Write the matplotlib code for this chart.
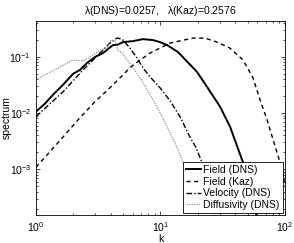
import matplotlib
matplotlib.use('Agg')
import matplotlib.pyplot as plt
import numpy as np

plt.rcParams['font.family'] = ['Liberation Sans', 'DejaVu Sans']
plt.rcParams['mathtext.fontset'] = 'custom'
plt.rcParams['mathtext.rm'] = 'Liberation Sans'
plt.rcParams['mathtext.it'] = 'Liberation Sans'
plt.rcParams['mathtext.default'] = 'regular'

# Spectra (k, spectrum)
k_field = [1.0, 1.181, 1.369, 1.648, 1.983, 2.257, 2.568, 2.978, 3.453, 4.155, 4.474,
           4.998, 6.013, 7.236, 8.706, 9.908, 11.28, 13.82, 19.65, 23.64, 30.06, 36.15,
           46.0, 52.36, 58.51]
s_field = [0.0106, 0.0147, 0.0211, 0.0317, 0.0496, 0.0582, 0.0774, 0.0988, 0.116, 0.161,
           0.161, 0.1815, 0.189, 0.205, 0.197, 0.1815, 0.161, 0.121, 0.0537, 0.0292, 0.0130,
           0.00576, 0.00133, 0.000446, 0.000161]

k_kaz = [1.0, 1.558, 2.257, 2.978, 3.929, 5.903, 8.236, 9.908, 11.92, 18.24, 22.77, 28.43,
         36.15, 46.0, 55.34, 63.0, 71.7, 80.1, 91.2, 101.9]
s_kaz = [0.001089, 0.00326, 0.0083, 0.01589, 0.02806, 0.0686, 0.116, 0.142, 0.1745, 0.214,
         0.214, 0.1815, 0.142, 0.0875, 0.0421, 0.0172, 0.00766, 0.0034, 0.00133, 0.000446]

k_vel = [1.0, 1.648, 2.385, 3.266, 3.929, 4.474, 4.908, 5.689, 6.475, 7.236, 8.236, 9.908,
         11.92, 14.34, 17.26, 19.28, 21.54, 24.53, 27.41]
s_vel = [0.00865, 0.0238, 0.0582, 0.116, 0.1745, 0.214, 0.205, 0.142, 0.0948, 0.0633,
         0.0439, 0.0281, 0.01655, 0.00865, 0.00373, 0.00245, 0.00133, 0.000446, 0.000161]

k_diff = [1.0, 1.558, 1.983, 2.385, 2.715, 3.266, 3.718, 3.929, 4.31, 4.557, 4.908, 5.382,
          6.013, 6.844, 7.508, 8.706, 9.908, 11.92, 13.57, 15.16, 17.26, 19.28]
s_diff = [0.0388, 0.0658, 0.0875, 0.0840, 0.0988, 0.131, 0.142, 0.189, 0.197, 0.131, 0.116,
          0.0875, 0.0633, 0.0421, 0.0304, 0.0172, 0.01016, 0.00451, 0.00245, 0.00133,
          0.000446, 0.000161]

labels = ['Field (DNS)', 'Field (Kaz)', 'Velocity (DNS)', 'Diffusivity (DNS)']
title = r'$\lambda$(DNS)=0.0257,   $\lambda$(Kaz)=0.2576'

fig = plt.figure(figsize=(2.94, 2.43), dpi=100)
ax = fig.add_axes([0.1224, 0.1152, 0.8470, 0.7984])

ax.loglog(k_field, s_field, color='black', lw=1.4, ls='-', label=labels[0])
ax.loglog(k_kaz, s_kaz, color='black', lw=1.0, ls=(0, (3, 2.5)), label=labels[1])
ax.loglog(k_vel, s_vel, color='black', lw=1.0, ls=(0, (4, 1.5, 1, 1.5)), label=labels[2])
ax.loglog(k_diff, s_diff, color='#8c8c8c', lw=0.9, ls=(0, (1, 1)), label=labels[3])

ax.set_xlim(1, 100)
ax.set_ylim(1.55e-4, 0.43)
ax.set_xlabel('k', fontsize=7.5, labelpad=0)
ax.set_ylabel('spectrum', fontsize=7.5)
ax.yaxis.set_label_coords(-0.098, 0.5)
ax.set_title(title, fontsize=7.5, pad=5)

ax.tick_params(which='both', direction='in', top=True, right=True, labelsize=7.5,
               width=0.5)
ax.tick_params(which='major', length=3)
ax.tick_params(which='minor', length=1.5)
for sp in ax.spines.values():
    sp.set_linewidth(0.6)

leg = ax.legend(loc='lower right', fontsize=7.5, frameon=True, fancybox=False,
                edgecolor='black', framealpha=1, handlelength=1.5, handletextpad=0.2,
                borderpad=0.3, labelspacing=0.15, borderaxespad=0.2)
leg.get_frame().set_linewidth(0.6)

fig.savefig('out.png', dpi=100)
